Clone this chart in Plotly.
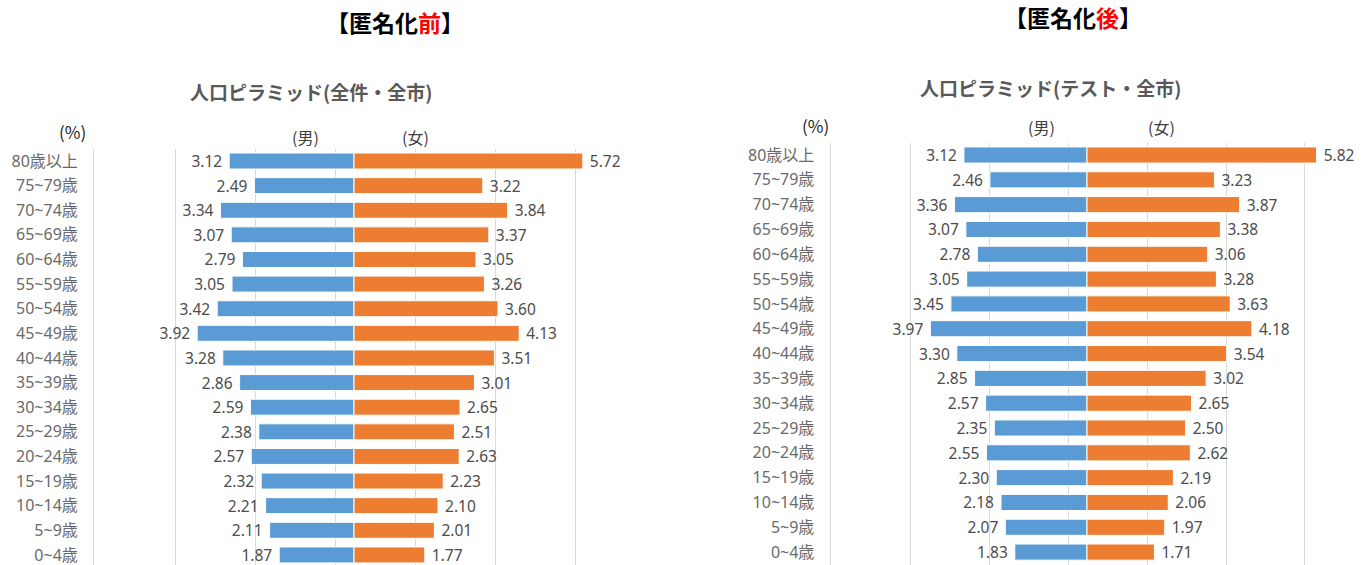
import plotly.graph_objects as go

# ---------------- data ----------------
age_groups = ["80歳以上", "75~79歳", "70~74歳", "65~69歳", "60~64歳", "55~59歳",
              "50~54歳", "45~49歳", "40~44歳", "35~39歳", "30~34歳", "25~29歳",
              "20~24歳", "15~19歳", "10~14歳", "5~9歳", "0~4歳"]

before_male = [3.12, 2.49, 3.34, 3.07, 2.79, 3.05, 3.42, 3.92, 3.28, 2.86,
               2.59, 2.38, 2.57, 2.32, 2.21, 2.11, 1.87]
before_female = [5.72, 3.22, 3.84, 3.37, 3.05, 3.26, 3.60, 4.13, 3.51, 3.01,
                 2.65, 2.51, 2.63, 2.23, 2.10, 2.01, 1.77]

after_male = [3.12, 2.46, 3.36, 3.07, 2.78, 3.05, 3.45, 3.97, 3.30, 2.85,
              2.57, 2.35, 2.55, 2.30, 2.18, 2.07, 1.83]
after_female = [5.82, 3.23, 3.87, 3.38, 3.06, 3.28, 3.63, 4.18, 3.54, 3.02,
                2.65, 2.50, 2.62, 2.19, 2.06, 1.97, 1.71]

chart_titles = ["人口ピラミッド(全件・全市)", "人口ピラミッド(テスト・全市)"]
panel_heads = ["前", "後"]

# ---------------- style ----------------
W, H = 1371, 565
BLUE = "#5B9BD5"
ORANGE = "#ED7D31"
GRID = "#d9d9d9"
GRAY = "#595959"
LABEL_GRAY = "#4d4d4d"
TICK_GRAY = "#6a6a6a"
NUM_FONT = "Noto Sans, Noto Sans CJK JP, sans-serif"
CJK_FONT = "Noto Sans CJK JP, Noto Sans, sans-serif"
grid_ticks = [-4.475, -2.475, -0.475, 1.525, 3.525, 5.525]
NBSP = "\u00a0"


def px(x):
    return x / W


def py(y):
    return 1 - y / H


fig = go.Figure()

panels = [
    dict(male=before_male, female=before_female, xa="x", ya="y"),
    dict(male=after_male, female=after_female, xa="x2", ya="y2"),
]

for p in panels:
    fig.add_trace(go.Bar(
        y=age_groups, x=[-v for v in p["male"]], orientation="h",
        marker=dict(color=BLUE, line=dict(color="white", width=1)),
        text=[f"{v:.2f}{NBSP}" for v in p["male"]],
        textposition="outside", constraintext="none", cliponaxis=False,
        textfont=dict(family=NUM_FONT, size=15.5, color=LABEL_GRAY),
        width=0.65, xaxis=p["xa"], yaxis=p["ya"], showlegend=False,
        hoverinfo="skip",
    ))
    fig.add_trace(go.Bar(
        y=age_groups, x=p["female"], orientation="h",
        marker=dict(color=ORANGE, line=dict(color="white", width=1)),
        text=[f"{NBSP}{v:.2f}" for v in p["female"]],
        textposition="outside", constraintext="none", cliponaxis=False,
        textfont=dict(family=NUM_FONT, size=15.5, color=LABEL_GRAY),
        width=0.65, xaxis=p["xa"], yaxis=p["ya"], showlegend=False,
        hoverinfo="skip",
    ))

xaxis_common = dict(range=[-6.5, 7.0], tickvals=grid_ticks, showticklabels=False,
                    showgrid=True, gridcolor=GRID, gridwidth=1, zeroline=False,
                    showline=False, ticks="", fixedrange=True)
yaxis_common = dict(type="category", showgrid=False, zeroline=False,
                    showline=True, linecolor=GRID, linewidth=1,
                    ticks="outside", ticklen=12, tickcolor="rgba(0,0,0,0)",
                    tickfont=dict(family=NUM_FONT, size=16, color=TICK_GRAY),
                    fixedrange=True)

L_center, L_scale = 354, 40.0
R_center, R_scale = 1087, 39.45

fig.update_layout(
    width=W, height=H,
    margin=dict(l=0, r=0, t=0, b=0),
    paper_bgcolor="white", plot_bgcolor="white",
    barmode="relative",
    xaxis=dict(domain=[px(L_center - 6.5 * L_scale), px(L_center + 7.0 * L_scale)],
               anchor="y", **xaxis_common),
    yaxis=dict(domain=[0, py(148.7)], anchor="x", range=[16.41, -0.5], **yaxis_common),
    xaxis2=dict(domain=[px(R_center - 6.5 * R_scale), px(R_center + 7.0 * R_scale)],
                anchor="y2", **xaxis_common),
    yaxis2=dict(domain=[0, py(142.6)], anchor="x2", range=[16.52, -0.5], **yaxis_common),
)

anns = []
# panel headings
for head, cx, cy in zip(panel_heads, [395, 1073], [22, 17]):
    anns.append(dict(text=f"<b>【匿名化<span style='color:#ff0000'>{head}</span>】</b>",
                     x=px(cx), y=py(cy), font=dict(family=CJK_FONT, size=23, color="#000000")))
# chart titles
for t, cx, cy in zip(chart_titles, [311, 1050], [92, 87]):
    anns.append(dict(text=f"<b>{t}</b>", x=px(cx), y=py(cy),
                     font=dict(family=CJK_FONT, size=19, color=GRAY)))
# (%) and sex labels
for t, cx, cy in [("(%)", 72, 131), ("(男)", 305, 137), ("(女)", 415, 137),
                  ("(%)", 815, 126), ("(男)", 1041, 127), ("(女)", 1161, 127)]:
    size = 17 if t == "(%)" else 16
    color = "#262626" if t == "(%)" else "#404040"
    anns.append(dict(text=t, x=px(cx), y=py(cy),
                     font=dict(family=CJK_FONT, size=size, color=color)))

for a in anns:
    a.update(xref="paper", yref="paper", showarrow=False,
             xanchor="center", yanchor="middle")
fig.update_layout(annotations=anns)

fig.write_html("out.html", config={"displayModeBar": False},
               post_script="document.body.style.margin='0';document.body.style.padding='0';")
